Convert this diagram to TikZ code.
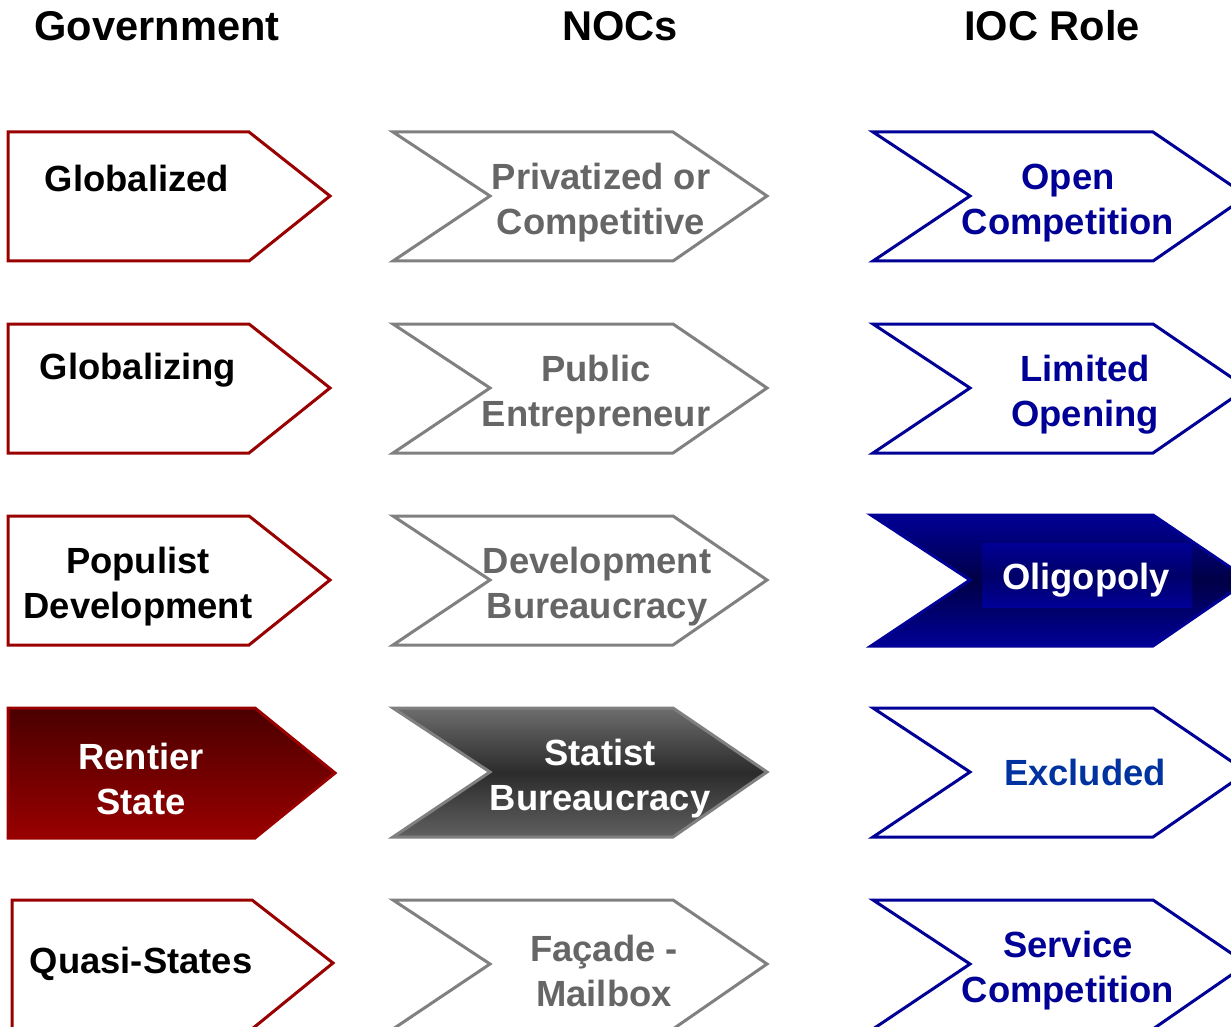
\documentclass[tikz,border=0pt]{standalone}
\usepackage{fontspec}
\setmainfont{Liberation Sans}
\usepackage{tikz}
\usetikzlibrary{positioning}

\definecolor{GovRed}{RGB}{153,0,0}
\definecolor{GovDark}{RGB}{74,0,0}
\definecolor{NocGray}{RGB}{128,128,128}
\definecolor{NocText}{RGB}{102,102,102}
\definecolor{IocBlue}{RGB}{0,0,150}
\definecolor{IocDark}{RGB}{0,0,70}
\definecolor{IocLight}{RGB}{0,51,160}

\begin{document}
\begin{tikzpicture}[x=0.5pt, y=-0.5pt]
  \tikzset{TitleStyle/.style = {font=\fontsize{20.8}{24}\selectfont\bfseries,
                                text = black,
                                inner sep = 0pt}}
  \tikzset{LabelStyle/.style = {font=\fontsize{18.2}{22.5}\selectfont\bfseries,
                                align = center,
                                inner sep = 0pt}}
  \tikzset{GovStyle/.style = {draw=GovRed, line width=1.5pt, line join=miter, fill=white}}
  \tikzset{NocStyle/.style = {draw=NocGray, line width=1.5pt, line join=miter, fill=white}}
  \tikzset{IocStyle/.style = {draw=IocBlue, line width=1.5pt, line join=miter, fill=white}}
  \useasboundingbox (0,0) rectangle (1231,1027);
  \clip (0,0) rectangle (1231,1027);
	%%% TITRES %%%
	\node[TitleStyle] (tgov) at (157,26) {Government};
	\node[TitleStyle] (tnoc) at (620,26) {NOCs};
	\node[TitleStyle] (tioc) at (1052,26) {IOC Role};
	%%% GOVERNMENT %%%
	\draw[GovStyle] (8,132) -- (249,132) -- (330,196) -- (249,261) -- (8,261) -- cycle;
	\draw[GovStyle] (8,324) -- (249,324) -- (330,388) -- (249,453) -- (8,453) -- cycle;
	\draw[GovStyle] (8,516) -- (249,516) -- (330,580) -- (249,645) -- (8,645) -- cycle;
	\draw[draw=GovRed, line width=1.5pt, top color=GovDark, bottom color=GovRed]
	  (8,708) -- (255,708) -- (335,773) -- (255,838) -- (8,838) -- cycle;
	\draw[GovStyle] (12,900) -- (252,900) -- (333,963) -- (252,1029) -- (12,1029) -- cycle;
	%
	\node[LabelStyle, text=black] (gov1) at (137,178) {Globalized};
	\node[LabelStyle, text=black] (gov2) at (138,370) {Globalizing};
	\node[LabelStyle, text=black] (gov3) at (138,587) {Populist\\Development};
	\node[LabelStyle, text=white] (gov4) at (141,779) {Rentier\\State};
	\node[LabelStyle, text=black] (gov5) at (141,964) {Quasi-States};
	%%% NOCS %%%
	\draw[NocStyle] (393,132) -- (673,132) -- (767,196) -- (673,261) -- (393,261) -- (490,196) -- cycle;
	\draw[NocStyle] (393,324) -- (673,324) -- (767,388) -- (673,453) -- (393,453) -- (490,388) -- cycle;
	\draw[NocStyle] (393,516) -- (673,516) -- (767,580) -- (673,645) -- (393,645) -- (490,580) -- cycle;
	\draw[draw=NocGray, line width=1.5pt, top color=NocGray!85!black, bottom color=NocGray!75!black, middle color=black!83]
	  (393,708) -- (673,708) -- (767,772) -- (673,837) -- (393,837) -- (490,772) -- cycle;
	\draw[NocStyle] (393,900) -- (673,900) -- (767,964) -- (673,1029) -- (393,1029) -- (490,964) -- cycle;
	%
	\node[LabelStyle, text=NocText] (noc1) at (601,203) {Privatized or\\Competitive};
	\node[LabelStyle, text=NocText] (noc2) at (596,395) {Public\\Entrepreneur};
	\node[LabelStyle, text=NocText] (noc3) at (597,587) {Development\\Bureaucracy};
	\node[LabelStyle, text=white] (noc4) at (600,779) {Statist\\Bureaucracy};
	\node[LabelStyle, text=NocText] (noc5) at (604,971) {Façade -\\Mailbox};
	%%% IOC ROLE %%%
	\draw[IocStyle] (873,132) -- (1153,132) -- (1247,196) -- (1153,261) -- (873,261) -- (970,196) -- cycle;
	\draw[IocStyle] (873,324) -- (1153,324) -- (1247,388) -- (1153,453) -- (873,453) -- (970,388) -- cycle;
	\draw[draw=IocBlue, line width=1.5pt, top color=IocBlue, bottom color=IocBlue, middle color=IocDark]
	  (871,515) -- (1153,515) -- (1249,580) -- (1153,646) -- (871,646) -- (970,580) -- cycle;
	\fill[top color=IocBlue, bottom color=IocBlue, middle color=IocBlue!70!black] (982,543) rectangle (1192,607);
	\draw[IocStyle] (873,708) -- (1153,708) -- (1247,772) -- (1153,837) -- (873,837) -- (970,772) -- cycle;
	\draw[IocStyle] (873,900) -- (1153,900) -- (1247,964) -- (1153,1029) -- (873,1029) -- (970,964) -- cycle;
	%
	\node[LabelStyle, text=IocBlue] (ioc1) at (1068,203) {Open\\Competition};
	\node[LabelStyle, text=IocBlue] (ioc2) at (1085,395) {Limited\\Opening};
	\node[LabelStyle, text=white] (ioc3) at (1086,580) {Oligopoly};
	\node[LabelStyle, text=IocLight] (ioc4) at (1085,772) {Excluded};
	\node[LabelStyle, text=IocBlue] (ioc5) at (1068,971) {Service\\Competition};
\end{tikzpicture}
\end{document}
